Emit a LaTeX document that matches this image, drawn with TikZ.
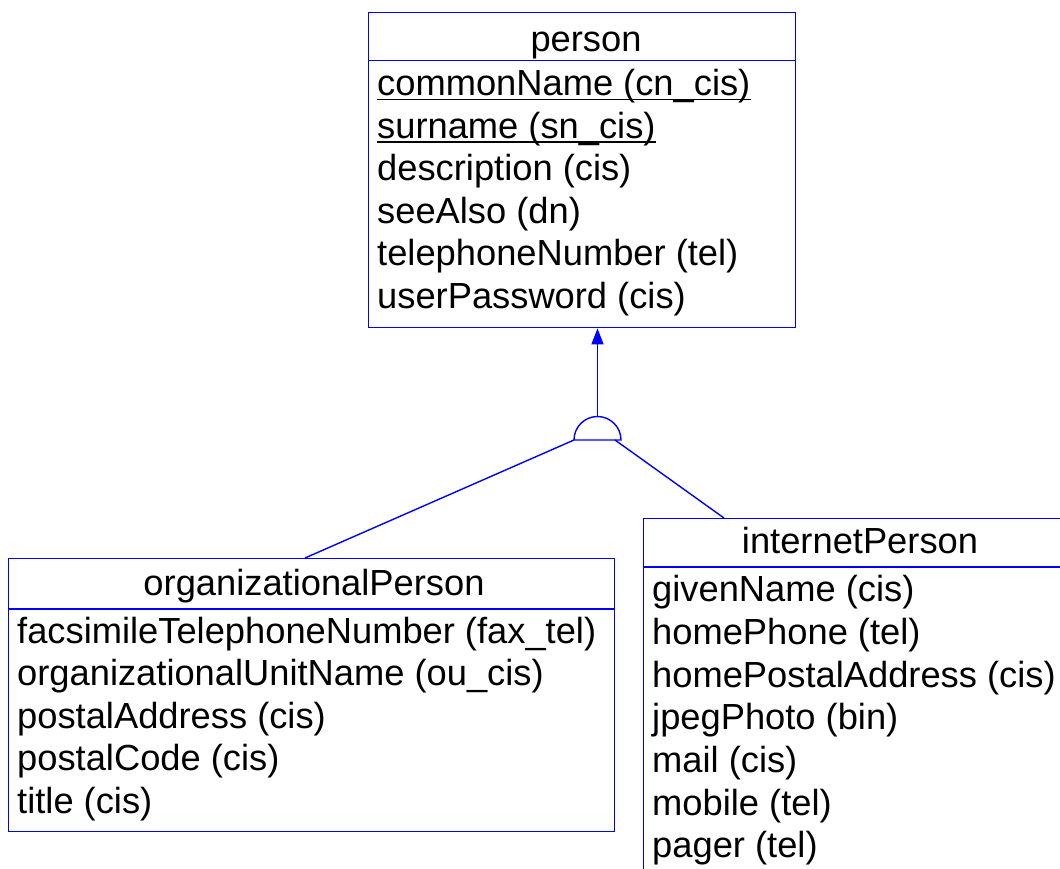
\documentclass[tikz,border=0pt]{standalone}
\usepackage{fontspec}
\setmainfont{Liberation Sans}
\usetikzlibrary{arrows.meta}
\begin{document}
\begin{tikzpicture}[x=1pt,y=-1pt,
  box/.style={draw=blue,line width=1.4pt,inner sep=0pt,anchor=north west},
  conn/.style={draw=blue,line width=1.4pt},
  ttl/.style={font=\fontsize{36.3}{42}\selectfont,inner sep=0pt,anchor=base},
  attr/.style={font=\fontsize{36.3}{42}\selectfont,inner sep=0pt,anchor=base west},
  ul/.style={draw=black,line width=1.8pt}]
\useasboundingbox (0,0) rectangle (1060,869);
\clip (0,0) rectangle (1060,869);
\fill[white] (0,0) rectangle (1060,869);

% person
\node[box,minimum width=427pt,minimum height=315pt] (person) at (368,12) {};
\draw[conn] ([yshift=-48.5pt]person.north west) -- ([yshift=-48.5pt]person.north east);
\node[ttl] (personT) at (586,52) {person};
\node[attr] (p1) at (377,96) {commonName (cn\_cis)};
\node[attr] (p2) at (377,138.4) {surname (sn\_cis)};
\node[attr] (p3) at (377,180.8) {description (cis)};
\node[attr] (p4) at (377,223.2) {seeAlso (dn)};
\node[attr] (p5) at (377,265.6) {telephoneNumber (tel)};
\node[attr] (p6) at (377,308) {userPassword (cis)};
\draw[ul] ([yshift=-3.5pt]p1.base west) -- ([yshift=-3.5pt]p1.base east);
\draw[ul] ([yshift=-3.5pt]p2.base west) -- ([yshift=-3.5pt]p2.base east);

% organizationalPerson
\node[box,minimum width=606pt,minimum height=273pt] (org) at (8,558) {};
\draw[conn] ([yshift=-51pt]org.north west) -- ([yshift=-51pt]org.north east);
\node[ttl] (orgT) at (314,595) {organizationalPerson};
\node[attr] (o1) at (17,643) {facsimileTelephoneNumber (fax\_tel)};
\node[attr] (o2) at (17,685.5) {organizationalUnitName (ou\_cis)};
\node[attr] (o3) at (17,728) {postalAddress (cis)};
\node[attr] (o4) at (17,770.5) {postalCode (cis)};
\node[attr] (o5) at (17,813) {title (cis)};

% internetPerson
\node[box,minimum width=434pt,minimum height=400pt] (inet) at (643,518) {};
\draw[conn] ([yshift=-49pt]inet.north west) -- ([yshift=-49pt]inet.north east);
\node[ttl] (inetT) at (860,553) {internetPerson};
\node[attr] (i1) at (652,601.7) {givenName (cis)};
\node[attr] (i2) at (652,644.4) {homePhone (tel)};
\node[attr] (i3) at (652,687.1) {homePostalAddress (cis)};
\node[attr] (i4) at (652,729.8) {jpegPhoto (bin)};
\node[attr] (i5) at (652,772.5) {mail (cis)};
\node[attr] (i6) at (652,815.2) {mobile (tel)};
\node[attr] (i7) at (652,857.9) {pager (tel)};

% ISA symbol
\coordinate (isaL) at (574,440);
\coordinate (isaTop) at (597.5,416.5);
\coordinate (isaRline) at (615,440);
\draw[conn] (isaL) arc[start angle=180,end angle=0,radius=23.5pt] -- cycle;
\draw[conn,-{Triangle[length=16pt,width=12pt]}] (isaTop) -- (isaTop |- person.south);
\draw[conn] (isaL) -- (org.north west -| 305,0);
\draw[conn] (isaRline) -- (inet.north west -| 724,0);
\end{tikzpicture}
\end{document}
